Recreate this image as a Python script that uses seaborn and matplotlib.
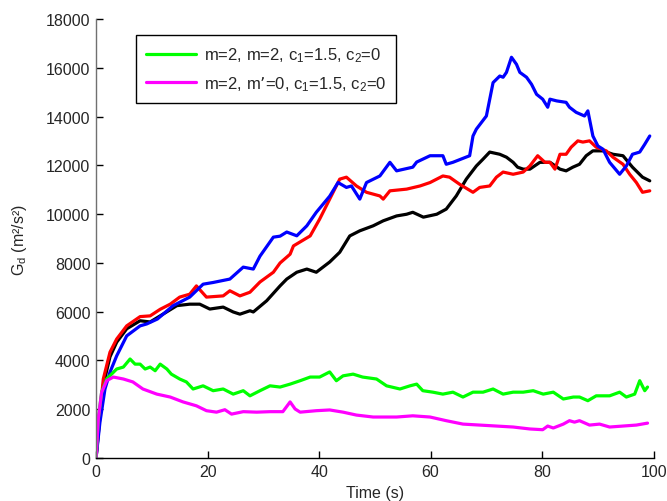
import numpy as np
import pandas as pd
import matplotlib
matplotlib.use('Agg')
import matplotlib.pyplot as plt
import seaborn as sns

# data
blue_t = [0, 0.7, 1.6, 2.5, 3.7, 5.5, 7.9, 9.1, 11, 13.8, 16.8, 19.2, 21, 24, 26.4, 28.2, 29.4, 31.8, 33, 34.2,
          36, 37.8, 39.5, 41.9, 43.4, 44.9, 45.8, 47.3, 48.5, 50.9, 52.7, 53.9, 56.8, 57.5, 59.9, 62.2,
          62.8, 64, 67, 67.6, 68.2, 70, 71.2, 72.4, 73, 73.6, 74.5, 75.4, 76, 77.2, 78.1, 79, 80.1, 81,
          81.4, 82.6, 84.3, 84.9, 86.1, 87.6, 88.2, 89.1, 90, 90.9, 92.1, 93.9, 95.1, 96.2, 97.5, 98.4, 99.3]
blue_v = [0, 1470, 2830, 3520, 4190, 5010, 5420, 5500, 5700, 6245, 6600, 7130, 7200, 7340, 7830, 7750,
          8280, 9060, 9100, 9270, 9115, 9525, 10080, 10740, 11300, 11100, 11160, 10620, 11300, 11570,
          12130, 11780, 11930, 12140, 12400, 12400, 12050, 12130, 12400, 13210, 13490, 14030, 15400,
          15670, 15620, 15820, 16440, 16150, 15820, 15620, 15330, 14920, 14720, 14390, 14720, 14650,
          14590, 14390, 14180, 14030, 14240, 13210, 12800, 12670, 12130, 11640, 11980, 12460, 12550,
          12870, 13210]

red_t = [0, 0.7, 1.3, 2.5, 3.7, 5.5, 7.9, 9.7, 11.5, 13.3, 15, 16.8, 18, 19.8, 22.8, 24, 25.8, 27.6, 29.4,
         31.8, 33, 34.8, 35.4, 38.4, 40.1, 41.9, 43.7, 44.9, 46.7, 48.5, 50.9, 51.5, 52.7, 55.7, 58.1,
         59.9, 62.2, 63.4, 65.2, 67.6, 68.8, 70.6, 71.8, 73, 74.8, 76.6, 77.8, 79.2, 80.5, 81.4, 82.3,
         83.2, 84.3, 85.2, 86.4, 87.3, 88.5, 89.7, 91.5, 92.7, 94.5, 95.7, 96.9, 98, 99.3]
red_v = [0, 1870, 3240, 4340, 4880, 5420, 5800, 5830, 6100, 6310, 6600, 6720, 7060, 6600, 6650, 6860,
         6650, 6800, 7220, 7620, 8000, 8360, 8700, 9110, 9800, 10620, 11440, 11520, 11160, 10900, 10750,
         10620, 10960, 11030, 11160, 11300, 11570, 11520, 11230, 10900, 11100, 11160, 11520, 11730,
         11640, 11730, 11980, 12400, 12130, 12130, 11850, 12460, 12460, 12750, 13010, 12960, 13010,
         12750, 12600, 12340, 12050, 11640, 11300, 10900, 10960]

black_t = [0, 0.7, 1.3, 2.5, 3.7, 5.5, 7.9, 9.7, 12, 14.5, 16.8, 18.6, 20.4, 22.8, 24.6, 25.8, 27.6, 28.2,
           30.6, 33, 34.2, 36, 37.8, 39.5, 41.9, 43.7, 45.5, 47.3, 49.7, 51.5, 53.9, 55.7, 56.8, 58.7,
           61.1, 62.8, 64.6, 66.4, 68.2, 69.4, 70.6, 72.4, 73.6, 74.8, 75.6, 76.6, 77.8, 79.6, 81.4,
           83.2, 84.3, 85.5, 86.7, 87.9, 89.1, 90.9, 92.7, 94.5, 96.2, 98, 99.3]
black_v = [0, 1700, 3000, 4150, 4750, 5300, 5630, 5580, 5900, 6250, 6310, 6310, 6110, 6190, 5990, 5900,
           6040, 5990, 6450, 7060, 7340, 7620, 7750, 7620, 8040, 8440, 9110, 9320, 9525, 9730, 9930,
           10000, 10080, 9880, 10000, 10210, 10750, 11440, 11980, 12260, 12550, 12460, 12340, 12130,
           11930, 11850, 11850, 12130, 12130, 11850, 11780, 11930, 12050, 12400, 12600, 12600, 12460,
           12400, 11930, 11520, 11370]

green_t = [0, 0.4, 1.0, 1.9, 3.7, 4.9, 6.1, 7, 7.9, 8.8, 9.7, 10.6, 11.5, 12.7, 13.5, 15, 16.2, 17.4, 19.2,
           21, 22.8, 24.6, 26.4, 27.6, 29.4, 31.2, 33, 34.8, 36.6, 38.4, 40.1, 41.9, 43.1, 44.3, 46.1,
           47.8, 50.3, 52.1, 54.5, 56.3, 57.5, 58.6, 60.4, 62.2, 64, 65.8, 67.6, 69.4, 71.2, 73, 74.8,
           76.6, 78.4, 80.2, 82, 83.8, 85.6, 86.7, 88.2, 89.7, 92.1, 93.9, 95.1, 96.6, 97.5, 98.4, 98.9]
green_v = [0, 1600, 2690, 3240, 3650, 3730, 4060, 3850, 3850, 3650, 3730, 3580, 3850, 3650, 3440, 3240, 3120,
           2830, 2960, 2760, 2830, 2620, 2760, 2550, 2760, 2960, 2910, 3030, 3170, 3320, 3320, 3530,
           3170, 3370, 3440, 3320, 3240, 2960, 2830, 2960, 3030, 2760, 2700, 2620, 2700, 2500, 2700,
           2700, 2830, 2620, 2700, 2700, 2760, 2620, 2700, 2420, 2500, 2500, 2350, 2550, 2550, 2700,
           2500, 2620, 3170, 2760, 2910]

magenta_t = [0, 0.4, 1.0, 1.9, 3.1, 4.9, 6.6, 8.4, 10.9, 13.3, 15.6, 18, 19.8, 21.6, 23.1, 24.3, 26.4,
             28.8, 31.2, 33.5, 34.8, 35.7, 36.6, 39.5, 41.9, 44.3, 46.7, 49.7, 52.3, 53.9, 56.8, 59.9,
             62.8, 65.8, 68.8, 71.8, 74.8, 77.8, 80.1, 81, 82, 83.8, 84.9, 85.8, 86.7, 88.5, 90.3, 92.1,
             94.5, 96.9, 98.9]
magenta_v = [0, 1600, 2690, 3170, 3320, 3240, 3120, 2830, 2620, 2500, 2300, 2140, 1940, 1880, 1980,
             1800, 1900, 1880, 1900, 1900, 2300, 2010, 1880, 1940, 1970, 1880, 1760, 1680, 1680, 1680,
             1730, 1680, 1530, 1390, 1350, 1310, 1270, 1190, 1160, 1310, 1230, 1390, 1530, 1470, 1530,
             1350, 1390, 1270, 1310, 1350, 1430]

labels = ['m=2, m=2, c$_1$=1.5, c$_2$=0', 'm=2, m\u2019=0, c$_1$=1.5, c$_2$=0']

sns.set_style('white')
plt.rcParams['font.family'] = ['Liberation Sans', 'DejaVu Sans']
plt.rcParams['mathtext.default'] = 'regular'

fig = plt.figure(figsize=(6.67, 5.02), dpi=100)
ax = fig.add_axes([0.144, 0.0857, 0.836, 0.874])

lw = 2.3
sns.lineplot(x=black_t, y=black_v, color='black', lw=lw, ax=ax)
sns.lineplot(x=red_t, y=red_v, color='red', lw=lw, ax=ax)
sns.lineplot(x=blue_t, y=blue_v, color='blue', lw=lw, ax=ax)
sns.lineplot(x=green_t, y=green_v, color=(0, 1, 0), lw=lw, ax=ax, label=labels[0])
sns.lineplot(x=magenta_t, y=magenta_v, color=(1, 0, 1), lw=lw, ax=ax, label=labels[1])

ax.set_xlim(0, 100)
ax.set_ylim(0, 18000)
ax.set_xticks(np.arange(0, 101, 20))
ax.set_yticks(np.arange(0, 18001, 2000))
ax.tick_params(direction='in', length=5, width=1, labelsize=11.5, color='black',
               left=True, bottom=True, pad=4)
for s in ['top', 'right']:
    ax.spines[s].set_visible(False)
ax.spines['left'].set_color('#707070')
ax.spines['left'].set_linewidth(1)
ax.spines['bottom'].set_color('black')
ax.spines['bottom'].set_linewidth(1)

ax.set_xlabel('Time (s)', fontsize=11.5, labelpad=5)
ax.set_ylabel('G$_d$ (m\u00b2/s\u00b2)', fontsize=11.5, labelpad=12)

leg = ax.legend(loc='upper left', bbox_to_anchor=(0.056, 0.982), fontsize=12,
                frameon=True, fancybox=False, edgecolor='black', handlelength=3,
                borderpad=0.6, labelspacing=0.6, handletextpad=0.5)
leg.get_frame().set_linewidth(1)
leg.get_frame().set_alpha(1)

fig.savefig('out.png', dpi=100)
